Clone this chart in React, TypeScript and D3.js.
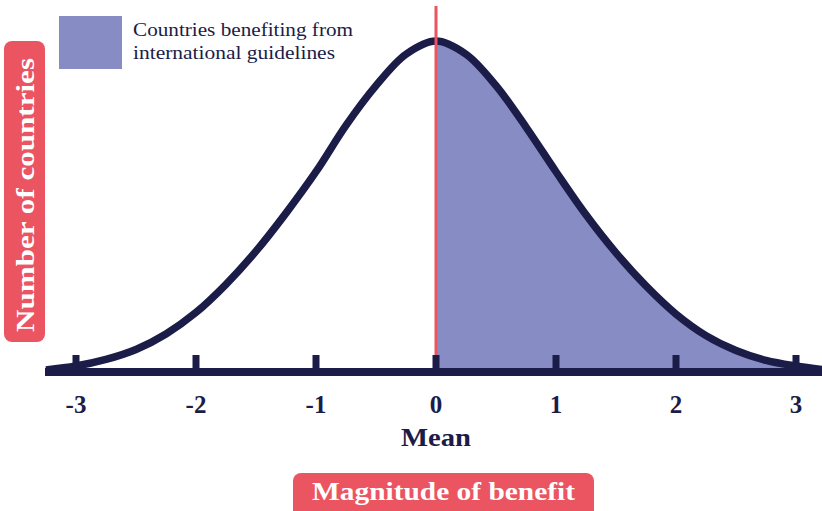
import React from "react";
import * as d3 from "d3";

const magnitudes = [-3.25, -3, -2.75, -2.5, -2.25, -2, -1.75, -1.5, -1.25, -1, -0.75, -0.5, -0.25, 0, 0.25, 0.5, 0.75, 1, 1.25, 1.5, 1.75, 2, 2.25, 2.5, 2.75, 3, 3.25];
const countryShare = [0.006, 0.018, 0.038, 0.068, 0.115, 0.18, 0.265, 0.365, 0.48, 0.605, 0.745, 0.865, 0.96, 1.0, 0.96, 0.865, 0.74, 0.605, 0.475, 0.36, 0.26, 0.175, 0.11, 0.065, 0.035, 0.018, 0.006];
const tickValues = [-3, -2, -1, 0, 1, 2, 3];
const tickLabels = ["-3", "-2", "-1", "0", "1", "2", "3"];
const legendLines = ["Countries benefiting from", "international guidelines"];
const meanLabel = "Mean";
const xTitle = "Magnitude of benefit";
const yTitle = "Number of countries";

const NAVY = "#1b1c48";
const RED = "#eb5461";
const FILL = "#878dc4";
const FONT = "'Liberation Serif', 'DejaVu Serif', serif";

export default function App() {
  const W = 822, H = 511;
  const x = d3.scaleLinear().domain([-3, 3]).range([76, 796]);
  const y = d3.scaleLinear().domain([0, 1]).range([372, 41]);
  const pts = magnitudes.map((m, i) => ({ m, v: countryShare[i] }));
  const curve = d3.curveCatmullRom.alpha(0.5);
  const line = d3.line<any>().x(d => x(d.m)).y(d => y(d.v)).curve(curve);
  const area = d3.area<any>().x(d => x(d.m)).y0(y(0)).y1(d => y(d.v)).curve(curve);
  const right = pts.filter(p => p.m >= 0);

  return (
    <svg width={W} height={H} style={{ position: "absolute", left: 0, top: 0 }} fontFamily={FONT}>
      <rect width={W} height={H} fill="#fff" />
      {/* legend */}
      <rect x={59} y={16} width={63} height={53} fill={FILL} />
      {legendLines.map((t, i) => (
        <text key={i} x={133} y={36 + i * 23} fontSize={19.5} fill={NAVY} textLength={i === 0 ? 220 : 202} lengthAdjust="spacingAndGlyphs">{t}</text>
      ))}
      {/* fill */}
      <path d={area(right) || ""} fill={FILL} />
      {/* curve */}
      <path d={line(pts) || ""} fill="none" stroke={NAVY} strokeWidth={7.5} strokeLinejoin="round" />
      {/* mean line */}
      <line x1={x(0)} x2={x(0)} y1={6} y2={372} stroke={RED} strokeWidth={3} />
      {/* axis */}
      <line x1={45} x2={W} y1={y(0)} y2={y(0)} stroke={NAVY} strokeWidth={8} />
      {tickValues.map((t, i) => (
        <g key={t}>
          <line x1={x(t)} x2={x(t)} y1={355} y2={372} stroke={NAVY} strokeWidth={7} />
          <text x={x(t)} y={413} textAnchor="middle" fontSize={25} fontWeight="bold" fill={NAVY}>{tickLabels[i]}</text>
        </g>
      ))}
      <text x={x(0)} y={446} textAnchor="middle" fontSize={26} fontWeight="bold" fill={NAVY} textLength={70} lengthAdjust="spacingAndGlyphs">{meanLabel}</text>
      {/* x title box */}
      <rect x={293} y={473} width={301} height={48} rx={8} fill={RED} />
      <text x={443.5} y={500} textAnchor="middle" fontSize={26} fontWeight="bold" fill="#fff" textLength={263} lengthAdjust="spacingAndGlyphs">{xTitle}</text>
      {/* y title box */}
      <rect x={4} y={41} width={41} height={301} rx={8} fill={RED} />
      <text transform={`translate(33.5,195) rotate(-90)`} textAnchor="middle" fontSize={26} fontWeight="bold" fill="#fff" textLength={274} lengthAdjust="spacingAndGlyphs">{yTitle}</text>
    </svg>
  );
}
